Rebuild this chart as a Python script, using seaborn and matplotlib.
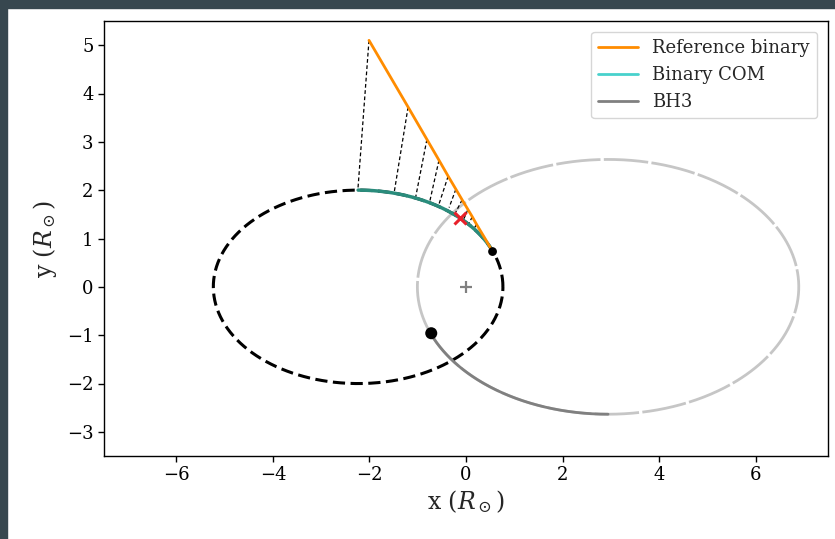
import numpy as np
import pandas as pd
import matplotlib
matplotlib.use("Agg")
import matplotlib.pyplot as plt
from matplotlib.patches import Rectangle
from matplotlib.lines import Line2D
import seaborn as sns

# ---------------- data ----------------
# orbital elements of the binary centre of mass around the system COM (origin)
com_semi_major = 3.0          # R_sun
orbit_eccentricity = 0.745
bh3_mass_ratio = 1.317        # BH3 orbit size relative to binary COM orbit
# eccentric-anomaly range of the highlighted arc (degrees)
arc_start_deg = 90.0
arc_end_deg = 21.7

# reference-binary track
ref_x = [-2.01, -1.20, -0.81, -0.56, -0.37, -0.21, -0.08, 0.04, 0.13, 0.22, 0.31, 0.40, 0.55]
ref_y = [5.10, 3.72, 3.05, 2.62, 2.29, 2.02, 1.80, 1.60, 1.45, 1.29, 1.14, 0.99, 0.73]
# binary-COM positions at the same epochs (connector lower ends)
com_pts_x = [-2.24, -1.49, -1.04, -0.75, -0.56, -0.35, -0.21, -0.06, 0.05, 0.16, 0.27, 0.39]
com_pts_y = [2.01, 1.94, 1.87, 1.77, 1.71, 1.64, 1.55, 1.37, 1.29, 1.20, 1.10, 0.96]

com_now = (0.55, 0.73)
bh3_now = (-0.72, -0.96)
cross_pt = (-0.12, 1.43)
system_com = (0.0, 0.0)

xlim = (-7.5, 7.5)
ylim = (-3.5, 5.5)
xticks = [-6, -4, -2, 0, 2, 4, 6]
yticks = [-3, -2, -1, 0, 1, 2, 3, 4, 5]

# ---------------- style ----------------
sns.set_style("ticks")
plt.rcParams["font.family"] = ["DejaVu Serif"]
plt.rcParams["mathtext.fontset"] = "dejavuserif"
plt.rcParams["axes.edgecolor"] = "black"
plt.rcParams["xtick.color"] = "black"
plt.rcParams["ytick.color"] = "black"

fig = plt.figure(figsize=(8.35, 5.39), dpi=100)
fig.patch.set_facecolor("white")
border = "#37474f"
fig.add_artist(Rectangle((0, 0), 7 / 835, 1, transform=fig.transFigure, color=border, zorder=-10))
fig.add_artist(Rectangle((0, 1 - 8 / 539), 1, 8 / 539, transform=fig.transFigure, color=border, zorder=-10))

ax = fig.add_axes([104 / 835, 1 - 456 / 539, 724 / 835, 435 / 539])


def orbit(a, e, E_deg, sign=1.0):
    E = np.radians(E_deg)
    b = a * np.sqrt(1 - e ** 2)
    x = a * (np.cos(E) - e)
    y = b * np.sin(E)
    return sign * x, sign * y


E_full = np.linspace(0, 360, 721)
E_arc = np.linspace(arc_start_deg, arc_end_deg, 200)

# BH3 full orbit (light dashed)
bx, by = orbit(com_semi_major * bh3_mass_ratio, orbit_eccentricity, E_full, -1.0)
ax.plot(bx, by, color="#c6c6c6", lw=2, ls=(0, (16, 1.2)), zorder=1)

# binary COM full orbit (black dashed)
cx, cy = orbit(com_semi_major, orbit_eccentricity, E_full)
ax.plot(cx, cy, color="black", lw=2.2, ls=(0, (4, 1.8)), zorder=2)

# highlighted arcs
ax_, ay_ = orbit(com_semi_major, orbit_eccentricity, E_arc)
arc_df = pd.DataFrame({"x": ax_, "y": ay_})
sns.lineplot(data=arc_df, x="x", y="y", sort=False, color="#2a8c7c", lw=2.5, ax=ax, zorder=4)

gx, gy = orbit(com_semi_major * bh3_mass_ratio, orbit_eccentricity, E_arc, -1.0)
bh3_df = pd.DataFrame({"x": gx, "y": gy})
sns.lineplot(data=bh3_df, x="x", y="y", sort=False, color="gray", lw=2, ax=ax, zorder=4)

# reference binary track
ref_df = pd.DataFrame({"x": ref_x, "y": ref_y})
sns.lineplot(data=ref_df, x="x", y="y", sort=False, color="darkorange", lw=2, ax=ax, zorder=5)

# connectors
for x0, y0, x1, y1 in zip(ref_x, ref_y, com_pts_x, com_pts_y):
    ax.plot([x0, x1], [y0, y1], color="black", lw=0.9, ls=(0, (3, 2)), zorder=3)

# markers
sns.scatterplot(x=[com_now[0]], y=[com_now[1]], color="black", s=40, ax=ax, zorder=6, edgecolor="none")
sns.scatterplot(x=[bh3_now[0]], y=[bh3_now[1]], color="black", s=75, ax=ax, zorder=6, edgecolor="none")
ax.plot([cross_pt[0]], [cross_pt[1]], marker="x", color="#e8202a", ms=9, mew=2.2, zorder=7)
ax.plot([system_com[0]], [system_com[1]], marker="+", color="gray", ms=8, mew=1.6, zorder=7)

ax.set_xlim(*xlim)
ax.set_ylim(*ylim)
ax.set_xticks(xticks)
ax.set_yticks(yticks)
ax.set_xticklabels([f"{t}".replace("-", "\u2212") for t in xticks])
ax.set_yticklabels([f"{t}".replace("-", "\u2212") for t in yticks])
ax.tick_params(labelsize=13, direction="out", length=4, width=1)
ax.set_xlabel(r"x ($R_\odot$)", fontsize=17, labelpad=3)
ax.set_ylabel(r"y ($R_\odot$)", fontsize=17, labelpad=6)
for s in ax.spines.values():
    s.set_linewidth(1.0)
    s.set_color("black")

handles = [
    Line2D([], [], color="darkorange", lw=2),
    Line2D([], [], color="mediumturquoise", lw=2),
    Line2D([], [], color="gray", lw=2),
]
ax.legend(handles, ["Reference binary", "Binary COM", "BH3"], loc="upper right", fontsize=13,
          frameon=True, fancybox=True, framealpha=0.8, edgecolor="#cccccc",
          borderaxespad=0.6, labelspacing=0.5, handlelength=2.2)

fig.savefig("out.png", dpi=100, facecolor=fig.get_facecolor())
